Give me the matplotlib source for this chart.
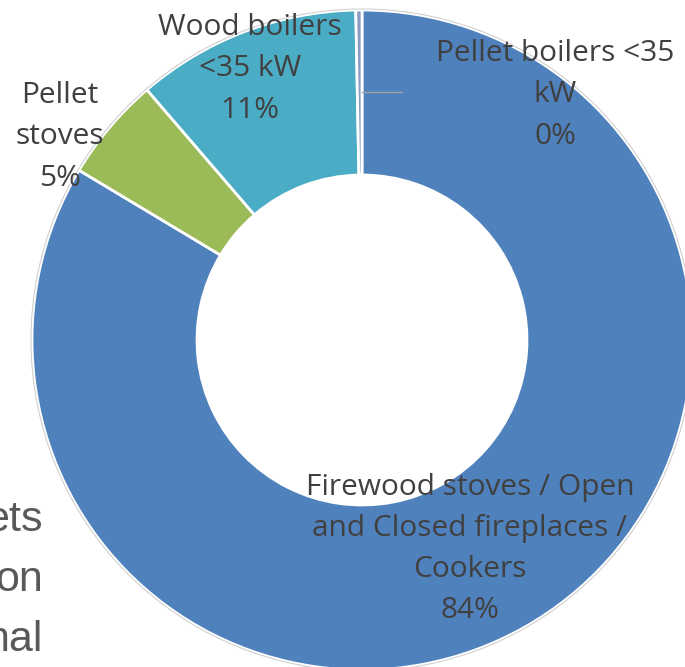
import matplotlib.pyplot as plt

# Share of appliances
categories = ["Firewood stoves / Open\nand Closed fireplaces /\nCookers",
              "Pellet\nstoves",
              "Wood boilers\n<35 kW",
              "Pellet boilers <35\nkW"]
shares = [83.6, 5.1, 11.0, 0.3]
shown_pct = ["84%", "5%", "11%", "0%"]
colors = ["#4F81BD", "#9BBB59", "#4BACC6", "#8A9AC2"]

# partly hidden slide text at the left edge
side_text = ["ets", "on", "nal"]

W, H = 685, 667
fig = plt.figure(figsize=(W / 100, H / 100), dpi=100)
ax = fig.add_axes([0, 0, 1, 1])

cx, cy = 362, H - 340
R = 330
wedges, _ = ax.pie(shares, colors=colors, startangle=90, counterclock=False,
                   center=(cx, cy), radius=R, frame=True,
                   wedgeprops=dict(width=R * 0.5, edgecolor="white", linewidth=2))
ax.set_xlim(0, W)
ax.set_ylim(0, H)
ax.set_aspect("equal")
ax.axis("off")

# thin light outline round the ring
ring = plt.Circle((cx, cy), R + 1, fill=False, ec="#d0d0d0", lw=0.8)
ax.add_patch(ring)

font = dict(family="Open Sans", fontsize=21.5, color="#404040", ha="center",
            va="center", linespacing=1.56)
label_pos = [(470, H - 549), (60, H - 137), (250, H - 69), (555, H - 95)]
for name, pct, (x, y) in zip(categories, shown_pct, label_pos):
    ax.text(x, y, name + "\n" + pct, **font)

# leader line for the tiny slice
ax.plot([362, 402], [H - 92, H - 92], color="#a0a0a0", lw=1)

for i, t in enumerate(side_text):
    ax.text(43, H - (520 + i * 60), t, family="Liberation Sans", fontsize=31,
            color="#595959", ha="right", va="center")

fig.savefig("out.png", dpi=100)
